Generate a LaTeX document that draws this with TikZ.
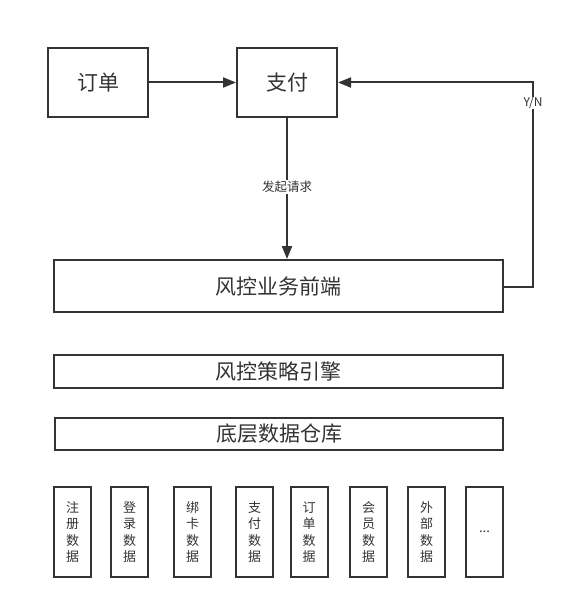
\documentclass[tikz,border=0pt]{standalone}
\usepackage{fontspec}
\setmainfont{Noto Sans CJK SC}
\usetikzlibrary{arrows.meta}
\definecolor{ink}{HTML}{333333}
\tikzset{
  box/.style={draw=ink, line width=2pt, text=ink, inner sep=0pt, font=\fontsize{21}{24}\selectfont},
  wide/.style={box, minimum width=449pt},
  col/.style={box, minimum width=37pt, minimum height=90pt, align=center, font=\fontsize{13}{16.5}\selectfont},
  conn/.style={draw=ink, line width=2pt, -{Triangle[length=13pt,width=10pt]}},
  lbl/.style={fill=white, text=ink, inner sep=1pt, font=\fontsize{12.5}{14}\selectfont}
}
\begin{document}
\begin{tikzpicture}[x=1pt,y=-1pt]
\useasboundingbox (0,0) rectangle (564,609);
\node[box, minimum width=100pt, minimum height=69pt] (order) at (98,82.5) {订单};
\node[box, minimum width=100pt, minimum height=69pt] (pay) at (287,82.5) {支付};
\node[wide, minimum height=52pt] (front) at (278,286) {风控业务前端};
\node[wide, minimum height=33pt] (engine) at (278,371.5) {风控策略引擎};
\node[wide, minimum height=32pt, minimum width=448pt] (dw) at (279,434) {底层数据仓库};
\node[col] (c1) at (72.5,532) {注\\册\\数\\据};
\node[col] (c2) at (129.5,532) {登\\录\\数\\据};
\node[col] (c3) at (192.5,532) {绑\\卡\\数\\据};
\node[col] (c4) at (254.5,532) {支\\付\\数\\据};
\node[col] (c5) at (309,532) {订\\单\\数\\据};
\node[col] (c6) at (368.5,532) {会\\员\\数\\据};
\node[col] (c7) at (426.5,532) {外\\部\\数\\据};
\node[col] (c8) at (484.5,532) {...};
\draw[conn] (order.east) -- (pay.west);
\draw[conn] (pay.south) -- node[lbl, pos=0.49] {发起请求} (front.north -| pay.south);
\coordinate (r1) at (533,287);
\coordinate (r2) at (533,82.5);
\draw[conn] (front.east |- r1) -- (r1) -- node[lbl, pos=0.9, inner sep=0.5pt, font=\fontsize{12}{13}\selectfont] {Y/N} (r2) -- (pay.east);
\end{tikzpicture}
\end{document}
